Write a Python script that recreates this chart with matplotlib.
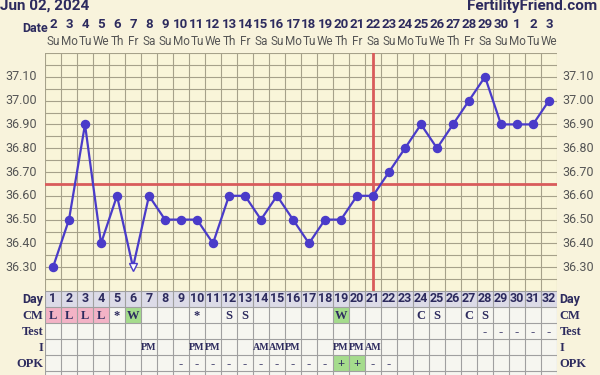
import matplotlib
matplotlib.use("Agg")
import matplotlib.pyplot as plt
import numpy as np

# chart data
days = list(range(1, 33))
dates = [2, 3, 4, 5, 6, 7, 8, 9, 10, 11, 12, 13, 14, 15, 16, 17, 18, 19, 20, 21,
         22, 23, 24, 25, 26, 27, 28, 29, 30, 1, 2, 3]
weekdays = ["Su", "Mo", "Tu", "We", "Th", "Fr", "Sa"] * 4 + ["Su", "Mo", "Tu", "We"]
temps = [36.30, 36.50, 36.90, 36.40, 36.60, 36.30, 36.60, 36.50, 36.50, 36.50,
         36.40, 36.60, 36.60, 36.50, 36.60, 36.50, 36.40, 36.50, 36.50, 36.60,
         36.60, 36.70, 36.80, 36.90, 36.80, 36.90, 37.00, 37.10, 36.90, 36.90,
         36.90, 37.00]
open_days = [6]
coverline = 36.65
ovulation_day = 21

cm = ["L", "L", "L", "L", "*", "W", "", "", "", "*", "", "S", "S", "", "", "",
      "", "", "W", "", "", "", "", "C", "S", "", "C", "S", "", "", "", ""]
test = [""] * 27 + ["-", "-", "-", "-", "-"]
intercourse = ["", "", "", "", "", "", "PM", "", "", "PM", "PM", "", "", "AM", "AM", "PM",
               "", "", "PM", "PM", "AM", "", "", "", "", "", "", "", "", "", "", ""]
opk = ["", "", "", "", "", "", "", "", "-", "-", "-", "-", "-", "-", "-", "-",
       "-", "-", "+", "+", "-", "-", "", "", "", "", "", "", "", "", "", ""]
row_names = ["Day", "CM", "Test", "I", "OPK"]
yticks = [36.30, 36.40, 36.50, 36.60, 36.70, 36.80, 36.90, 37.00, 37.10]

# colours
bg = "#f8f3dc"
plot_bg = "#f9f5d9"
grid_c = "#a6a18a"
line_c = "#4a3bc9"
red_c = "#d95b5b"
navy = "#2d2b5e"
pink = "#f3b3c6"
green = "#a5dc8c"
cm_colors = {"L": pink, "W": green}
opk_colors = {"+": green}

W, H = 600, 375
fig = plt.figure(figsize=(6, 3.75), dpi=100, facecolor=bg)

def px_axes(x0, y0, x1, y1):
    return fig.add_axes([x0 / W, 1 - y1 / H, (x1 - x0) / W, (y1 - y0) / H])

x_left, x_right = 45, 557
top, bottom = 53, 291

# temperature chart
ax = px_axes(x_left, top, x_right, bottom)
ax.set_facecolor(plot_bg)
ax.set_xlim(0.5, 32.5)
ax.set_ylim(36.2, 37.2)
for xv in np.arange(0.5, 33, 1):
    ax.axvline(xv, color=grid_c, lw=0.8, zorder=1)
for yv in np.arange(36.2, 37.21, 0.05):
    ax.axhline(yv, color=grid_c, lw=0.8, zorder=1)
ax.axhline(coverline, color=red_c, lw=2, zorder=2)
ax.axvline(ovulation_day, color=red_c, lw=2, zorder=2)
ax.plot(days, temps, color=line_c, lw=1.6, zorder=3)
solid = [i for i, d in enumerate(days) if d not in open_days]
hollow = [i for i, d in enumerate(days) if d in open_days]
ax.plot([days[i] for i in solid], [temps[i] for i in solid], "o", color=line_c,
        ms=5.8, zorder=4)
ax.plot([days[i] for i in hollow], [temps[i] for i in hollow], "v", mfc="white",
        mec=line_c, mew=1, ms=6, zorder=4)
ax.set_xticks([])
ax.set_yticks([])
for s in ax.spines.values():
    s.set_visible(False)
for t in yticks:
    ax.text(-0.015, t, f"{t:.2f}", transform=ax.get_yaxis_transform(), ha="right",
            va="center", fontsize=9, color="#555555", family="Roboto")
    ax.text(1.01, t, f"{t:.2f}", transform=ax.get_yaxis_transform(), ha="left",
            va="center", fontsize=9, color="#555555", family="Roboto")

# header: dates and weekdays
for d, dt, wd in zip(days, dates, weekdays):
    ax.text(d, 1.12, str(dt), transform=ax.get_xaxis_transform(), ha="center",
            va="center", fontsize=9.5, fontweight="bold", color=navy, family="Roboto")
    ax.text(d, 1.048, wd, transform=ax.get_xaxis_transform(), ha="center",
            va="center", fontsize=8.5, color="#555555", family="Roboto")
fig.text(22 / W, 1 - 28 / H, "Date", ha="left", va="center", fontsize=9,
         fontweight="bold", color=navy, family="Roboto")
fig.text(0 / W, 1 - 6 / H, "Jun 02, 2024", ha="left", va="center", fontsize=11,
         fontweight="bold", color=navy, family="Roboto")
fig.text(597 / W, 1 - 6 / H, "FertilityFriend.com", ha="right", va="center",
         fontsize=11, fontweight="bold", color=navy, family="Roboto")

# bottom table
tb = px_axes(x_left, bottom, x_right, bottom + 16 * 6)
tb.set_xlim(0.5, 32.5)
tb.set_ylim(6, 0)
tb.set_facecolor("#f6f6f0")
tb.bar(days, 1, bottom=0, width=1, color="#dcdbe7", zorder=0)
tb.bar(days, [1 if c in cm_colors else 0 for c in cm], bottom=1, width=1,
       color=[cm_colors.get(c, "none") for c in cm], zorder=0)
tb.bar(days, [1 if o in opk_colors else 0 for o in opk], bottom=4, width=1,
       color=[opk_colors.get(o, "none") for o in opk], zorder=0)
for xv in np.arange(0.5, 33, 1):
    tb.axvline(xv, color="#a0a0a0", lw=0.8, zorder=1)
for yv in range(0, 7):
    tb.axhline(yv, color="#a0a0a0", lw=0.8, zorder=1)
tb.set_xticks([])
tb.set_yticks([])
for s in tb.spines.values():
    s.set_visible(False)

serif = "Liberation Serif"
for d in days:
    tb.text(d, 0.5, str(d), ha="center", va="center", fontsize=9, fontweight="bold",
            color=navy, family="Roboto", zorder=3)
for row, vals in [(1, cm), (2, test), (3, intercourse), (4, opk)]:
    for d, v in zip(days, vals):
        if v:
            fs = 7.2 if len(v) > 1 else 9
            tb.text(d, row + 0.55, v, ha="center", va="center", fontsize=fs,
                    fontweight="bold", color=navy, family=serif, zorder=3)
for row, name in enumerate(row_names):
    fam = "Roboto" if name == "Day" else serif
    tb.text(-0.003, row + 0.55, name, transform=tb.get_yaxis_transform(), ha="right",
            va="center", fontsize=9, fontweight="bold", color=navy, family=fam)
    tb.text(1.005, row + 0.55, name, transform=tb.get_yaxis_transform(), ha="left",
            va="center", fontsize=9, fontweight="bold", color=navy, family=fam)

fig.savefig("out.png", dpi=100, facecolor=bg)
